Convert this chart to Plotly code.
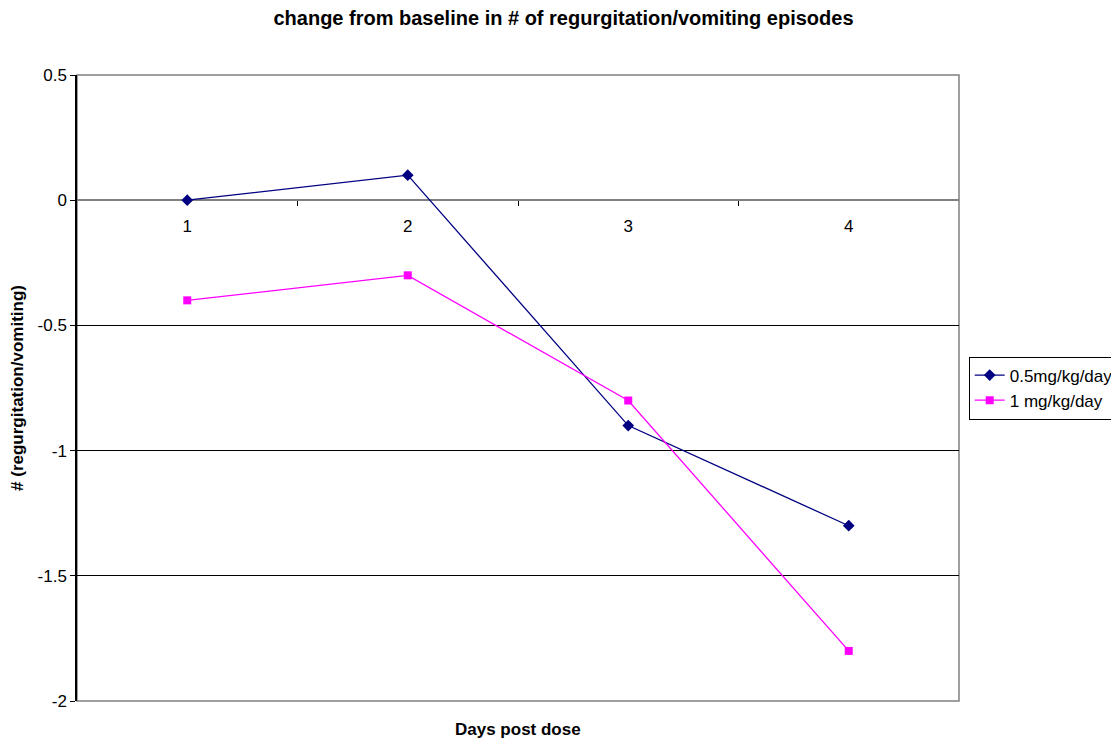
import plotly.graph_objects as go

# Data
days = [1, 2, 3, 4]
day_labels = ["1", "2", "3", "4"]
dose_low = [0, 0.1, -0.9, -1.3]
dose_high = [-0.4, -0.3, -0.8, -1.8]
y_ticks = [-2, -1.5, -1, -0.5, 0, 0.5]
y_labels = ["-2", "-1.5", "-1", "-0.5", "0", "0.5"]

fig = go.Figure()

fig.add_trace(go.Scatter(
    x=days, y=dose_low, name="0.5mg/kg/day",
    mode="lines+markers",
    line=dict(color="#000080", width=1.3),
    marker=dict(symbol="diamond", size=9, color="#000080"),
))
fig.add_trace(go.Scatter(
    x=days, y=dose_high, name="1 mg/kg/day",
    mode="lines+markers",
    line=dict(color="#FF00FF", width=1.3),
    marker=dict(symbol="square", size=8, color="#FF00FF"),
))

# invisible trace on the overlay axis so the day labels are drawn
fig.add_trace(go.Scatter(
    x=days, y=dose_low, xaxis="x2", mode="markers",
    marker=dict(opacity=0), showlegend=False, hoverinfo="skip",
))

font = "Liberation Sans, Arial, sans-serif"

fig.update_layout(
    width=1111, height=732,
    margin=dict(l=69, r=160, t=67, b=39, autoexpand=False),
    paper_bgcolor="white", plot_bgcolor="white",
    font=dict(family=font, size=17, color="black"),
    title=dict(
        text="<b>change from baseline in # of regurgitation/vomiting episodes</b>",
        xref="container", x=0.5, xanchor="center",
        yref="container", y=0.986, yanchor="middle",
        font=dict(size=20, family=font),
    ),
    xaxis=dict(
        range=[0.5, 4.5], anchor="free", position=0.8, automargin=False,
        tickvals=[1.5, 2.5, 3.5], showticklabels=False,
        ticks="outside", ticklen=5, tickcolor="black",
        showgrid=False, zeroline=False, showline=False,
    ),
    xaxis2=dict(
        range=[0.5, 4.5], overlaying="x", anchor="free", position=0.8,
        automargin=False,
        tickvals=days, ticktext=day_labels, ticks="", ticklabelstandoff=14,
        showgrid=False, zeroline=False, showline=False,
        tickfont=dict(size=17),
    ),
    yaxis=dict(
        range=[-2, 0.5], tickvals=y_ticks, ticktext=y_labels, automargin=False,
        ticks="outside", ticklen=5, tickcolor="black",
        showline=True, linecolor="black", linewidth=1.5,
        showgrid=True, gridcolor="black", gridwidth=1,
        zeroline=True, zerolinecolor="#808080", zerolinewidth=1.5,
        tickfont=dict(size=17),
        title=dict(text="<b># (regurgitation/vomiting)</b>", font=dict(size=17), standoff=14),
    ),
    legend=dict(
        x=1.011, xanchor="left", y=0.5, yanchor="middle",
        bordercolor="black", borderwidth=1, bgcolor="white",
        font=dict(size=17), tracegroupgap=0,
    ),
    showlegend=True,
    annotations=[dict(
        text="<b>Days post dose</b>", xref="paper", yref="paper",
        x=0.5, y=-0.045, xanchor="center", yanchor="middle",
        showarrow=False, font=dict(size=17, family=font),
    )],
    shapes=[dict(
        type="rect", xref="paper", yref="paper", x0=0, x1=1, y0=0, y1=1,
        line=dict(color="#808080", width=1.5), layer="below",
    )],
)

fig.write_html("out.html")
